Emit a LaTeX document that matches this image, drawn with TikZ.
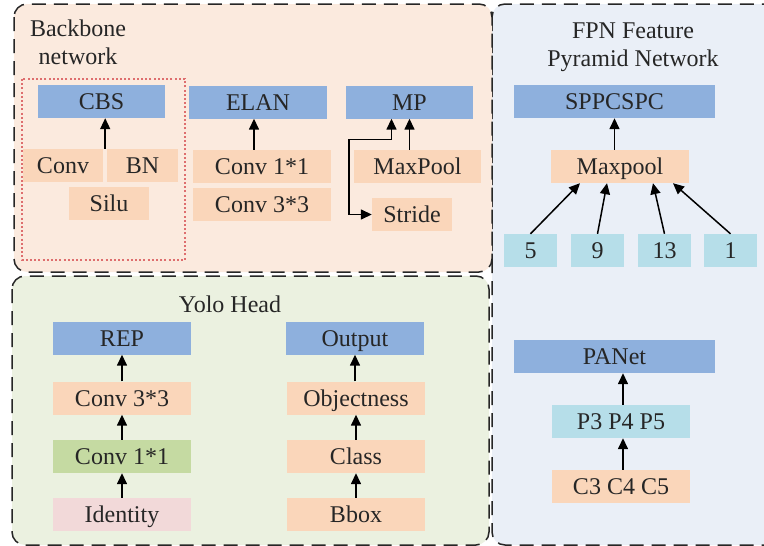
\documentclass[tikz,border=0pt]{standalone}
\usepackage{fontspec}
\setmainfont{Liberation Serif}
\usetikzlibrary{arrows.meta}
\definecolor{boxblue}{RGB}{142,176,221}
\definecolor{boxpeach}{RGB}{250,214,186}
\definecolor{boxcyan}{RGB}{182,222,233}
\definecolor{boxgreen}{RGB}{197,218,162}
\definecolor{boxpink}{RGB}{242,217,217}
\definecolor{bgpeach}{RGB}{251,234,222}
\definecolor{bgblue}{RGB}{234,239,247}
\definecolor{bggreen}{RGB}{235,241,224}
\definecolor{dotred}{RGB}{222,110,110}
\begin{document}
\begin{tikzpicture}[x=1pt,y=-1pt,
  font=\fontsize{24}{28}\selectfont,
  panel/.style={draw=black!85,line width=1.5pt,dash pattern=on 14pt off 8pt,rounded corners=13pt},
  blk/.style={inner sep=0pt,minimum height=33pt,text height=16pt,text depth=0pt,text=black!85},
  arr/.style={line width=1.5pt,-{Triangle[length=11pt,width=10pt]}},
  arrboth/.style={line width=1.5pt,{Triangle[length=11pt,width=10pt]}-{Triangle[length=11pt,width=10pt]}}]
\useasboundingbox (0,0) rectangle (764,546);
\draw[panel,fill=bgblue] (492,4) rectangle (790,545);
\draw[panel,fill=bgpeach] (14,4) rectangle (492,272);
\draw[panel,fill=bggreen] (12,276) rectangle (489,545);
\draw[dotred,line width=1.3pt,dash pattern=on 2pt off 2.2pt] (22,79) rectangle (185,260);
\node[align=center,text=black!85] (bblabel) at (78,42) {Backbone\\network};
\node[align=center,text=black!85] (fpnlabel) at (633,47) {FPN Feature\\Pyramid Network};
\node[text=black!85] (yololabel) at (230,304) {Yolo Head};
\node[blk,fill=boxblue,minimum width=127pt] (cbs) at (101.5,101.5) {CBS};
\node[blk,fill=boxpeach,minimum width=80pt] (conv) at (63,165.5) {Conv};
\node[blk,fill=boxpeach,minimum width=71pt] (bn) at (142.5,165.5) {BN};
\node[blk,fill=boxpeach,minimum width=80pt] (silu) at (109,203.5) {Silu};
\node[blk,fill=boxblue,minimum width=138pt] (elan) at (258,102) {ELAN};
\node[blk,fill=boxpeach,minimum width=138pt] (conva) at (262,166.5) {Conv 1*1};
\node[blk,fill=boxpeach,minimum width=138pt] (convb) at (262,204.5) {Conv 3*3};
\node[blk,fill=boxblue,minimum width=127pt] (mp) at (409.5,102) {MP};
\node[blk,fill=boxpeach,minimum width=127pt] (maxpool) at (417.5,166.5) {MaxPool};
\node[blk,fill=boxpeach,minimum width=80pt] (stride) at (412,214.5) {Stride};
\node[blk,fill=boxblue,minimum width=201pt] (spp) at (614.5,101.5) {SPPCSPC};
\node[blk,fill=boxpeach,minimum width=138pt] (mpool) at (620,166.5) {Maxpool};
\node[blk,fill=boxcyan,minimum width=53pt] (k5) at (530.5,250.5) {5};
\node[blk,fill=boxcyan,minimum width=53pt] (k9) at (597.5,250.5) {9};
\node[blk,fill=boxcyan,minimum width=53pt] (k13) at (664.5,250.5) {13};
\node[blk,fill=boxcyan,minimum width=53pt] (k1) at (730.5,250.5) {1};
\node[blk,fill=boxblue,minimum width=138pt] (rep) at (122,338) {REP};
\node[blk,fill=boxpeach,minimum width=138pt] (rconv3) at (122,398) {Conv 3*3};
\node[blk,fill=boxgreen,minimum width=138pt] (rconv1) at (122,456.5) {Conv 1*1};
\node[blk,fill=boxpink,minimum width=138pt] (ident) at (122,514.5) {Identity};
\node[blk,fill=boxblue,minimum width=138pt] (out) at (355,338) {Output};
\node[blk,fill=boxpeach,minimum width=138pt] (obj) at (356,398) {Objectness};
\node[blk,fill=boxpeach,minimum width=138pt] (cls) at (356,456.5) {Class};
\node[blk,fill=boxpeach,minimum width=138pt] (bbox) at (356,514.5) {Bbox};
\node[blk,fill=boxblue,minimum width=201pt] (panet) at (614.5,356.5) {PANet};
\node[blk,fill=boxcyan,minimum width=138pt] (pp) at (621,421.5) {P3 P4 P5};
\node[blk,fill=boxpeach,minimum width=138pt] (cc) at (621,486.5) {C3 C4 C5};
\draw[arr] (conv.north east) ++(2,0) coordinate (cbsin) -- (cbsin |- cbs.south);
\draw[arr] ([xshift=-8pt]conva.north) -- ([xshift=-8pt]conva.north |- elan.south);
\draw[arr] (maxpool.north -| mp) -- (mp.south);
\draw[arrboth] ([xshift=-18pt]mp.south) -- ++(0,21) -| ([xshift=-23pt]stride.west) -- (stride.west);
\draw[arr] (mpool.north -| spp) -- (spp.south);
\draw[arr] (k5.north) -- ([xshift=-40pt]mpool.south);
\draw[arr] (k9.north) -- ([xshift=-13pt]mpool.south);
\draw[arr] (k13.north) -- ([xshift=33pt]mpool.south);
\draw[arr] (k1.north) -- ([xshift=53pt]mpool.south);
\draw[arr] (rconv3) -- (rep);
\draw[arr] (rconv1) -- (rconv3);
\draw[arr] (ident) -- (rconv1);
\draw[arr] (obj.north -| out) -- (out.south);
\draw[arr] (cls.north) -- (obj.south);
\draw[arr] (bbox.north) -- (cls.south);
\draw[arr] ([xshift=2pt]pp.north) -- ([xshift=2pt]pp.north |- panet.south);
\draw[arr] ([xshift=2pt]cc.north) -- ([xshift=2pt]pp.south);
\end{tikzpicture}
\end{document}
